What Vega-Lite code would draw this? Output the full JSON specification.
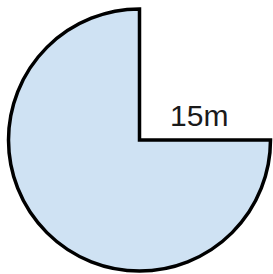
{
  "$schema": "https://vega.github.io/schema/vega-lite/v6.json",
  "width": 267,
  "height": 268,
  "padding": {"left": 6, "top": 6, "right": 0, "bottom": 0},
  "autosize": {"type": "none"},
  "background": "white",
  "config": {"view": {"stroke": null}},
  "data": {"values": [
    {"part": "empty", "value": 1, "order": 1, "label": "15m"},
    {"part": "filled", "value": 3, "order": 2, "label": ""}
  ]},
  "encoding": {
    "theta": {"field": "value", "type": "quantitative", "stack": true},
    "order": {"field": "order", "type": "quantitative"}
  },
  "layer": [
    {
      "mark": {"type": "arc", "radius": 131, "strokeWidth": 3.5, "strokeJoin": "miter"},
      "encoding": {
        "fill": {"field": "part", "type": "nominal", "scale": {"domain": ["empty", "filled"], "range": ["transparent", "#cfe2f3"]}, "legend": null},
        "stroke": {"field": "part", "type": "nominal", "scale": {"domain": ["empty", "filled"], "range": ["transparent", "black"]}, "legend": null}
      }
    },
    {
      "mark": {"type": "text", "radius": 64, "thetaOffset": 0.42, "font": "Liberation Sans", "fontSize": 30, "color": "#1a1a1a", "align": "center", "baseline": "middle"},
      "encoding": {
        "text": {"field": "label", "type": "nominal"}
      }
    }
  ]
}
